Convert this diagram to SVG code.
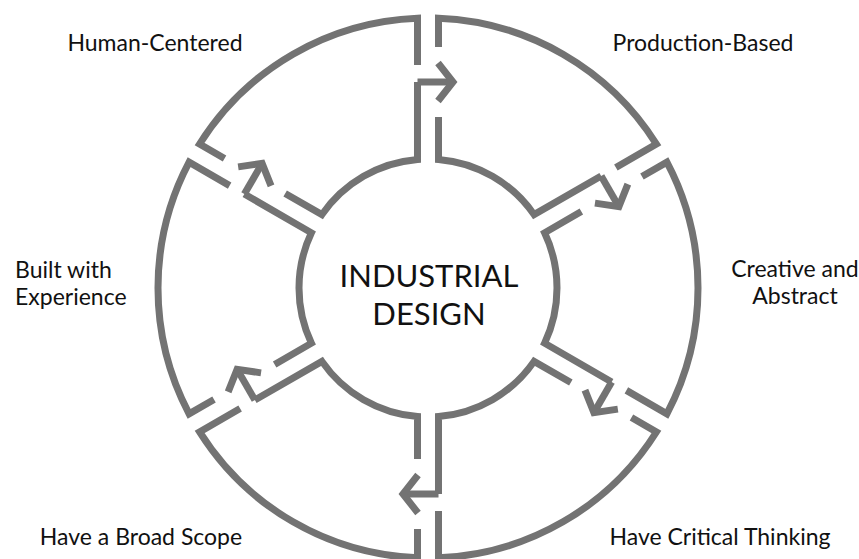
<svg xmlns="http://www.w3.org/2000/svg" width="859" height="559" viewBox="0 0 859 559">
<style>
.edge{fill:none;stroke:#737373;stroke-width:7;stroke-linejoin:miter;stroke-linecap:butt}
.lbl{font-family:Lato,"Open Sans","Liberation Sans",sans-serif;font-size:23px;fill:#111}
.title{font-family:Lato,"Open Sans","Liberation Sans",sans-serif;font-size:31px;fill:#111;text-anchor:middle}
</style>
<defs>
<marker id="chev" markerUnits="userSpaceOnUse" markerWidth="60" markerHeight="60" viewBox="-30 -30 60 60" refX="0" refY="0" orient="auto" overflow="visible">
<path d="M-15 -19 L0 0 L-15 19" fill="none" stroke="#737373" stroke-width="7"/>
</marker>
<g id="sec">
<path class="edge" d="M10.5 -241 L10.5 -269.8 A270 270 0 0 1 228.4 -143.99 L187.87 -120.59"/>
<path class="edge" d="M173.15 -112.09 L106.09 -73.38 A129 129 0 0 0 10.5 -128.57 L10.5 -171"/>
</g>
</defs>
<rect width="859" height="559" fill="#fff"/>

<g id="production-based">
<use href="#sec" transform="translate(428 288) rotate(0)"/>
<text class="lbl" x="703" y="51" text-anchor="middle">Production-Based</text>
</g>
<g id="creative-and-abstract">
<use href="#sec" transform="translate(428 288) rotate(60)"/>
<text class="lbl" x="795" y="277" text-anchor="middle">Creative and</text>
<text class="lbl" x="795" y="304" text-anchor="middle">Abstract</text>
</g>
<g id="have-critical-thinking">
<use href="#sec" transform="translate(428 288) rotate(120)"/>
<text class="lbl" x="720" y="545" text-anchor="middle">Have Critical Thinking</text>
</g>
<g id="have-a-broad-scope">
<use href="#sec" transform="translate(428 288) rotate(180)"/>
<text class="lbl" x="141" y="545" text-anchor="middle">Have a Broad Scope</text>
</g>
<g id="built-with-experience">
<use href="#sec" transform="translate(428 288) rotate(240)"/>
<text class="lbl" x="15" y="278">Built with</text>
<text class="lbl" x="15" y="305">Experience</text>
</g>
<g id="human-centered">
<use href="#sec" transform="translate(428 288) rotate(300)"/>
<text class="lbl" x="155" y="51" text-anchor="middle">Human-Centered</text>
</g>

<g id="industrial-design">
<text class="title" x="429" y="287">INDUSTRIAL</text>
<text class="title" x="429" y="325">DESIGN</text>
</g>

<g id="connectors">
<path class="edge" d="M-10.5 -206 H25" marker-end="url(#chev)" transform="translate(428 288) rotate(0)"/>
<path class="edge" d="M-10.5 -206 H25" marker-end="url(#chev)" transform="translate(428 288) rotate(60)"/>
<path class="edge" d="M-10.5 -206 H25" marker-end="url(#chev)" transform="translate(428 288) rotate(120)"/>
<path class="edge" d="M-10.5 -206 H25" marker-end="url(#chev)" transform="translate(428 288) rotate(180)"/>
<path class="edge" d="M-10.5 -206 H25" marker-end="url(#chev)" transform="translate(428 288) rotate(240)"/>
<path class="edge" d="M-10.5 -206 H25" marker-end="url(#chev)" transform="translate(428 288) rotate(300)"/>
</g>
</svg>
